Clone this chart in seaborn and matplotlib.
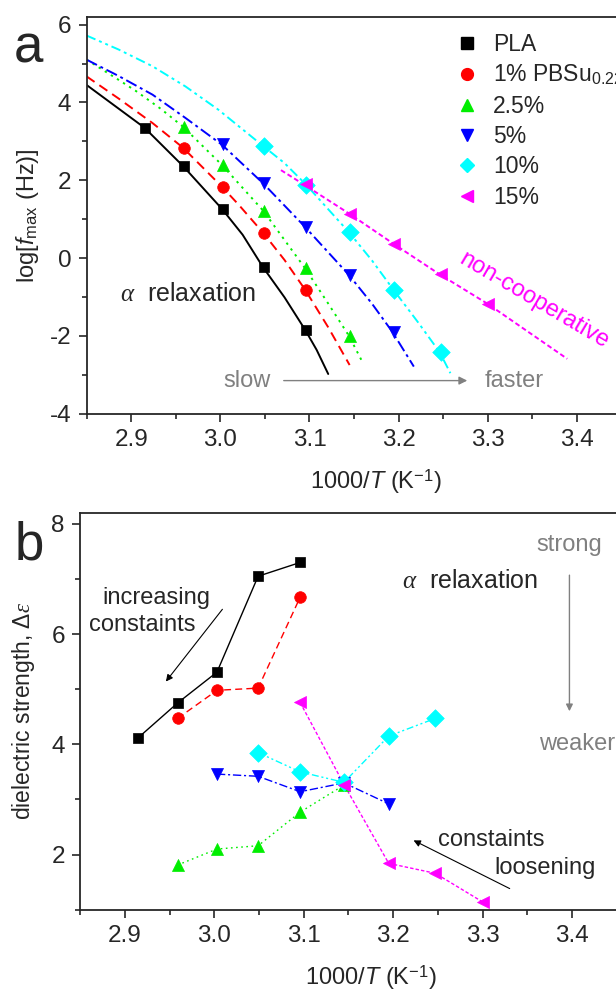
import numpy as np
import pandas as pd
import matplotlib
matplotlib.use("Agg")
import matplotlib.pyplot as plt
import seaborn as sns
from matplotlib.lines import Line2D
from matplotlib.ticker import MultipleLocator

# ---- data ----
labels = ["PLA", "1% PBSu$_{0.22}$", "2.5%", "5%", "10%", "15%"]
colors = ["#000000", "#ff0000", "#00ee00", "#0000ff", "#00ffff", "#ff00ff"]
markers = ["s", "o", "^", "v", "D", "<"]

# panel a: relaxation map, log f_max vs 1000/T
a_pla_x = [2.915, 2.959, 3.003, 3.049, 3.096]
a_pla_y = [3.35, 2.36, 1.26, -0.24, -1.85]
a_pbs1_x = [2.959, 3.003, 3.049, 3.096]
a_pbs1_y = [2.84, 1.82, 0.64, -0.82]
a_pbs25_x = [2.959, 3.003, 3.049, 3.096, 3.145]
a_pbs25_y = [3.37, 2.39, 1.22, -0.26, -2.0]
a_pbs5_x = [3.003, 3.049, 3.096, 3.145, 3.195]
a_pbs5_y = [2.92, 1.93, 0.80, -0.43, -1.90]
a_pbs10_x = [3.049, 3.096, 3.145, 3.195, 3.247]
a_pbs10_y = [2.88, 1.89, 0.68, -0.81, -2.42]
a_pbs15_x = [3.096, 3.145, 3.195, 3.247, 3.300]
a_pbs15_y = [1.90, 1.14, 0.36, -0.42, -1.18]

# fitted curves, points
fit_pla_x = [2.85, 2.915, 2.958, 3.002, 3.025, 3.048, 3.072, 3.095, 3.108, 3.121]
fit_pla_y = [4.45, 3.35, 2.37, 1.26, 0.60, -0.24, -1.01, -1.84, -2.36, -2.98]
fit_pbs1_x = [2.85, 2.886, 2.924, 2.958, 3.002, 3.021, 3.048, 3.072, 3.095, 3.121, 3.145]
fit_pbs1_y = [4.67, 4.10, 3.47, 2.84, 1.83, 1.36, 0.65, -0.05, -0.81, -1.78, -2.75]
fit_pbs25_x = [2.85, 2.886, 2.905, 2.933, 2.958, 3.002, 3.048, 3.095, 3.121, 3.144, 3.160]
fit_pbs25_y = [5.10, 4.58, 4.30, 3.84, 3.38, 2.39, 1.22, -0.26, -1.17, -1.99, -2.70]
fit_pbs5_x = [2.85, 2.886, 2.924, 2.961, 3.002, 3.048, 3.095, 3.144, 3.170, 3.193, 3.217]
fit_pbs5_y = [5.10, 4.68, 4.20, 3.60, 2.91, 1.92, 0.80, -0.43, -1.17, -1.90, -2.79]
fit_pbs10_x = [2.85, 2.886, 2.924, 2.961, 2.998, 3.048, 3.072, 3.096, 3.144, 3.170,
               3.194, 3.222, 3.246, 3.258]
fit_pbs10_y = [5.72, 5.36, 4.93, 4.41, 3.81, 2.88, 2.44, 1.89, 0.67, -0.06,
               -0.81, -1.66, -2.42, -2.96]
fit_pbs15_x = [3.068, 3.093, 3.144, 3.194, 3.246, 3.300, 3.389]
fit_pbs15_y = [2.26, 1.90, 1.15, 0.37, -0.42, -1.18, -2.59]

# panel b: dielectric strength
b_pla_x = [2.915, 2.959, 3.003, 3.049, 3.096]
b_pla_y = [4.12, 4.75, 5.31, 7.05, 7.30]
b_pbs1_x = [2.959, 3.003, 3.049, 3.096]
b_pbs1_y = [4.47, 4.98, 5.02, 6.67]
b_pbs25_x = [2.959, 3.003, 3.049, 3.096, 3.145]
b_pbs25_y = [1.81, 2.10, 2.16, 2.77, 3.26]
b_pbs5_x = [3.003, 3.049, 3.096, 3.145, 3.195]
b_pbs5_y = [3.46, 3.42, 3.14, 3.30, 2.92]
b_pbs10_x = [3.049, 3.096, 3.145, 3.195, 3.247]
b_pbs10_y = [3.85, 3.50, 3.31, 4.15, 4.47]
b_pbs15_x = [3.096, 3.145, 3.195, 3.247, 3.300]
b_pbs15_y = [4.76, 3.27, 1.84, 1.66, 1.14]

a_points = [(a_pla_x, a_pla_y), (a_pbs1_x, a_pbs1_y), (a_pbs25_x, a_pbs25_y),
            (a_pbs5_x, a_pbs5_y), (a_pbs10_x, a_pbs10_y), (a_pbs15_x, a_pbs15_y)]
a_fits = [(fit_pla_x, fit_pla_y), (fit_pbs1_x, fit_pbs1_y), (fit_pbs25_x, fit_pbs25_y),
          (fit_pbs5_x, fit_pbs5_y), (fit_pbs10_x, fit_pbs10_y), (fit_pbs15_x, fit_pbs15_y)]
b_points = [(b_pla_x, b_pla_y), (b_pbs1_x, b_pbs1_y), (b_pbs25_x, b_pbs25_y),
            (b_pbs5_x, b_pbs5_y), (b_pbs10_x, b_pbs10_y), (b_pbs15_x, b_pbs15_y)]

dashes = ["-", (0, (5, 3)), (0, (1.2, 2.5)), (0, (6, 2, 1.5, 2)),
          (0, (5, 2, 1.5, 2, 1.5, 2)), (0, (2.5, 1.5))]
msizes = [62, 70, 75, 75, 80, 75]

sns.set_style("ticks")
plt.rcParams["font.family"] = ["Liberation Sans", "DejaVu Sans"]
plt.rcParams["axes.unicode_minus"] = False
plt.rcParams["mathtext.fontset"] = "custom"
plt.rcParams["mathtext.rm"] = "Liberation Sans"
plt.rcParams["mathtext.it"] = "Liberation Serif:italic"
plt.rcParams["mathtext.sf"] = "Liberation Sans:italic"

fig = plt.figure(figsize=(6.16, 9.92), dpi=100)
ax_a = fig.add_axes([0.1405, 0.5830, 0.941, 0.400])
ax_b = fig.add_axes([0.1300, 0.0830, 0.944, 0.400])

gray = "#808080"

def style_axis(ax, ylim, ymaj):
    ax.set_xlim(2.85, 3.5)
    ax.set_ylim(*ylim)
    ax.xaxis.set_major_locator(MultipleLocator(0.1))
    ax.xaxis.set_minor_locator(MultipleLocator(0.05))
    ax.xaxis.set_major_formatter(plt.FormatStrFormatter("%.1f"))
    ax.yaxis.set_major_locator(MultipleLocator(ymaj))
    ax.yaxis.set_minor_locator(MultipleLocator(ymaj / 2))
    ax.tick_params(which="major", direction="out", length=6, width=1.2, labelsize=17.5, pad=5)
    ax.tick_params(which="minor", direction="out", length=3.5, width=1.2)
    for s in ax.spines.values():
        s.set_linewidth(1.3)
    ax.set_xlabel(r"1000/$\mathsf{T}$ (K$^{\mathregular{-1}}$)", fontsize=17, labelpad=12)

# ---- panel a ----
for (px, py), (fx, fy), c, m, ls, ms in zip(a_points, a_fits, colors, markers, dashes, msizes):
    sns.lineplot(x=fx, y=fy, ax=ax_a, color=c, lw=1.4, sort=False, linestyle=ls)
    sns.scatterplot(x=px, y=py, ax=ax_a, color=c, marker=m, s=ms, edgecolor=c, linewidth=0.5, zorder=3)

style_axis(ax_a, (-4, 6.2), 2)
ax_a.set_ylabel(r"log[$\mathsf{f}_{\mathregular{max}}$ (Hz)]", fontsize=17, labelpad=6)

handles = [Line2D([], [], ls="none", marker=m, color=c, markersize=8.5 if m != "D" else 7.5)
           for c, m in zip(colors, markers)]
leg = ax_a.legend(handles, labels, loc="upper left", bbox_to_anchor=(0.597, 1.012),
                  frameon=False, fontsize=16.5, handletextpad=0.55, labelspacing=0.32,
                  handlelength=1.2)

ax_a.text(2.888, -0.92, r"$\alpha$  relaxation", fontsize=18, va="center")
ax_a.text(3.03, -3.15, "slow", fontsize=17, color=gray, ha="center", va="center")
ax_a.text(3.33, -3.15, "faster", fontsize=17, color=gray, ha="center", va="center")
ax_a.annotate("", xy=(3.28, -3.15), xytext=(3.068, -3.15),
              arrowprops=dict(arrowstyle="-|>", color=gray, lw=1.0, mutation_scale=12))
ax_a.text(3.352, -1.1, "non-cooperative", fontsize=17, color="#ff00ff",
          rotation=-30.5, ha="center", va="center", rotation_mode="anchor")
fig.text(0.046, 0.951, "a", fontsize=38, ha="center", va="center")

# ---- panel b ----
for (px, py), c, m, ls, ms in zip(b_points, colors, markers, dashes, msizes):
    sns.lineplot(x=px, y=py, ax=ax_b, color=c, lw=1.0, sort=False, linestyle=ls)
    sns.scatterplot(x=px, y=py, ax=ax_b, color=c, marker=m, s=ms, edgecolor=c, linewidth=0.5, zorder=3)

style_axis(ax_b, (1.0, 8.2), 2)
ax_b.set_ylabel(r"dielectric strength, $\Delta\varepsilon$", fontsize=16.5, labelpad=10)

ax_b.text(2.935, 6.65, "increasing", fontsize=17, ha="center", va="center")
ax_b.text(2.919, 6.16, "constaints", fontsize=17, ha="center", va="center")
ax_b.annotate("", xy=(2.944, 5.1), xytext=(3.011, 6.49),
              arrowprops=dict(arrowstyle="-|>", color="black", lw=0.8, mutation_scale=10))
ax_b.text(3.21, 6.97, r"$\alpha$  relaxation", fontsize=18, va="center")
ax_b.text(3.397, 7.61, "strong", fontsize=17, color=gray, ha="center", va="center")
ax_b.annotate("", xy=(3.397, 4.55), xytext=(3.397, 7.12),
              arrowprops=dict(arrowstyle="-|>", color=gray, lw=1.0, mutation_scale=10))
ax_b.text(3.405, 4.01, "weaker", fontsize=17, color=gray, ha="center", va="center")
ax_b.text(3.31, 2.27, "constaints", fontsize=17, ha="center", va="center")
ax_b.text(3.37, 1.76, "loosening", fontsize=17, ha="center", va="center")
ax_b.annotate("", xy=(3.22, 2.28), xytext=(3.333, 1.36),
              arrowprops=dict(arrowstyle="-|>", color="black", lw=0.8, mutation_scale=10))
fig.text(0.047, 0.450, "b", fontsize=38, ha="center", va="center")

fig.savefig("out.png", dpi=100)
